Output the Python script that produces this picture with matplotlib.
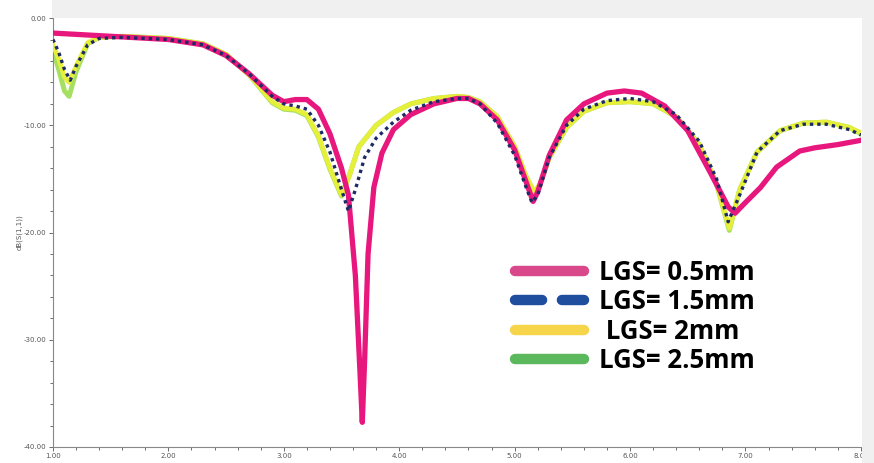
import matplotlib
matplotlib.use("Agg")
import matplotlib.pyplot as plt
from matplotlib.lines import Line2D
from matplotlib.patches import Rectangle
from matplotlib.ticker import MultipleLocator

# frequency (GHz) / dB(S(1,1))
freq_a = [1.0, 1.5, 2.0, 2.3, 2.5, 2.7, 2.9, 3.0, 3.1, 3.2, 3.3, 3.4, 3.5, 3.56,
          3.62, 3.66, 3.68, 3.70, 3.73, 3.78, 3.85, 3.95, 4.1, 4.3, 4.5, 4.6, 4.7,
          4.85, 5.0, 5.1, 5.16, 5.2, 5.3, 5.45, 5.6, 5.8, 5.95, 6.1, 6.3, 6.5, 6.7,
          6.85, 6.91, 7.0, 7.13, 7.27, 7.47, 7.6, 7.8, 8.0]
s11_05 = [-1.4, -1.7, -2.0, -2.5, -3.5, -5.2, -7.2, -7.8, -7.6, -7.6, -8.5, -10.8, -14.0, -16.5,
          -24.0, -33.0, -37.7, -32.0, -22.0, -15.8, -12.6, -10.4, -9.0, -8.0, -7.5, -7.5, -8.0,
          -9.5, -12.3, -15.3, -17.1, -16.2, -12.8, -9.5, -8.0, -7.0, -6.8, -7.0, -8.2, -10.5, -14.5,
          -17.6, -18.2, -17.2, -15.8, -13.9, -12.4, -12.1, -11.8, -11.4]

freq_b = [1.0, 1.05, 1.1, 1.15, 1.2, 1.3, 1.4, 1.6, 2.0, 2.3, 2.5, 2.7, 2.9, 3.0, 3.1,
          3.2, 3.3, 3.4, 3.5, 3.56, 3.62, 3.7, 3.8, 3.95, 4.1, 4.3, 4.5, 4.6, 4.7, 4.85,
          5.0, 5.1, 5.15, 5.2, 5.3, 5.45, 5.6, 5.8, 6.0, 6.2, 6.4, 6.6, 6.75, 6.85, 6.95,
          7.1, 7.3, 7.5, 7.7, 7.9, 8.0]
s11_15 = [-2.0, -3.2, -4.8, -5.8, -4.5, -2.5, -1.9, -1.8, -2.0, -2.5, -3.5, -5.2, -7.3, -8.0, -8.2,
          -8.5, -10.0, -12.5, -16.0, -18.0, -16.0, -13.0, -11.2, -9.7, -8.6, -7.8, -7.5, -7.5, -8.0, -9.8,
          -12.8, -15.8, -17.2, -16.5, -13.0, -10.0, -8.5, -7.7, -7.5, -7.8, -9.0, -11.5, -15.0, -19.0, -16.5,
          -12.5, -10.5, -9.9, -9.9, -10.4, -10.9]

freq_c = [1.0, 1.05, 1.1, 1.14, 1.2, 1.3, 1.4, 1.6, 2.0, 2.3, 2.5, 2.7, 2.9, 3.0, 3.1,
          3.2, 3.3, 3.4, 3.5, 3.57, 3.65, 3.8, 3.95, 4.1, 4.3, 4.5, 4.6, 4.7, 4.85, 5.0,
          5.1, 5.17, 5.22, 5.3, 5.45, 5.6, 5.8, 6.0, 6.2, 6.4, 6.6, 6.75, 6.86, 6.95, 7.1,
          7.3, 7.5, 7.7, 7.9, 8.0]
s11_2 = [-2.5, -3.8, -5.5, -6.0, -4.5, -2.3, -1.8, -1.7, -1.9, -2.4, -3.4, -5.3, -7.8, -8.4, -8.5,
         -9.0, -11.0, -14.0, -16.5, -14.6, -12.0, -10.0, -8.8, -8.0, -7.5, -7.3, -7.4, -7.8, -9.2, -12.0,
         -14.8, -16.2, -15.5, -13.0, -10.2, -8.7, -7.9, -7.8, -8.0, -9.2, -11.8, -15.5, -19.6, -16.0, -12.5,
         -10.5, -9.8, -9.7, -10.2, -10.7]
s11_25 = [-3.0, -4.8, -6.8, -7.3, -5.0, -2.4, -1.8, -1.7, -1.9, -2.4, -3.4, -5.3, -7.9, -8.5, -8.6,
          -9.1, -11.1, -14.1, -16.6, -14.6, -12.0, -10.0, -8.8, -8.0, -7.5, -7.3, -7.4, -7.8, -9.2, -12.0,
          -14.8, -16.3, -15.5, -13.0, -10.2, -8.7, -7.9, -7.8, -8.0, -9.2, -11.8, -15.5, -19.8, -16.0, -12.5,
          -10.5, -9.8, -9.7, -10.2, -10.8]

labels = ["LGS= 0.5mm", "LGS= 1.5mm", " LGS= 2mm", "LGS= 2.5mm"]

fig = plt.figure(figsize=(8.74, 4.63), dpi=100, facecolor="white")
# light grey frame strips of the simulator window
fig.patches.append(Rectangle((0.06, 0.961), 0.94, 0.039, transform=fig.transFigure,
                             facecolor="#f0f0f0", edgecolor="none", zorder=0))
fig.patches.append(Rectangle((0.986, 0.0), 0.014, 0.961, transform=fig.transFigure,
                             facecolor="#f0f0f0", edgecolor="none", zorder=0))

ax = fig.add_axes([0.0606, 0.0346, 0.9244, 0.9264])
ax.plot(freq_c, s11_25, color="#a6e063", lw=3.6, zorder=2, solid_joinstyle="round")
ax.plot(freq_c, s11_2, color="#e6f03a", lw=3.4, zorder=3, solid_joinstyle="round")
ax.plot(freq_a, s11_05, color="#e8177d", lw=3.8, zorder=4, solid_joinstyle="round")
ax.plot(freq_b, s11_15, color="#1c2a66", lw=2.4, ls=(0, (1, 1.2)), zorder=5)

ax.set_xlim(1.0, 8.0)
ax.set_ylim(-40, 0)
ax.xaxis.set_major_locator(MultipleLocator(1.0))
ax.xaxis.set_minor_locator(MultipleLocator(0.2))
ax.yaxis.set_major_locator(MultipleLocator(10))
ax.yaxis.set_minor_locator(MultipleLocator(2))
ax.xaxis.set_major_formatter(lambda v, p: f"{v:.2f}")
ax.yaxis.set_major_formatter(lambda v, p: f"{v:.2f}")
ax.tick_params(which="both", labelsize=5, colors="#555555", direction="out", pad=1.5)
ax.tick_params(which="major", length=3, width=0.6)
ax.tick_params(which="minor", length=2, width=0.6)
for side in ["top", "right"]:
    ax.spines[side].set_visible(False)
for side in ["left", "bottom"]:
    ax.spines[side].set_color("#888888")
    ax.spines[side].set_linewidth(0.8)
ax.set_ylabel("dB(S(1,1))", fontsize=5, color="#555555", labelpad=1)

handles = [
    Line2D([], [], color="#d9488a", lw=7.5, solid_capstyle="round"),
    Line2D([], [], color="#1f4e9e", lw=7.5, ls=(0, (2.6, 1.9)), dash_capstyle="round"),
    Line2D([], [], color="#f7d54a", lw=7.5, solid_capstyle="round"),
    Line2D([], [], color="#5cb85c", lw=7.5, solid_capstyle="round"),
]
leg = ax.legend(handles, labels, loc="center left", bbox_to_anchor=(0.572, 0.304),
                frameon=False, handlelength=2.7, handletextpad=0.55, labelspacing=0.1,
                borderpad=0, borderaxespad=0,
                prop={"family": "Open Sans", "weight": "bold", "size": 18.5})

fig.savefig("out.png", dpi=100, facecolor="white")
